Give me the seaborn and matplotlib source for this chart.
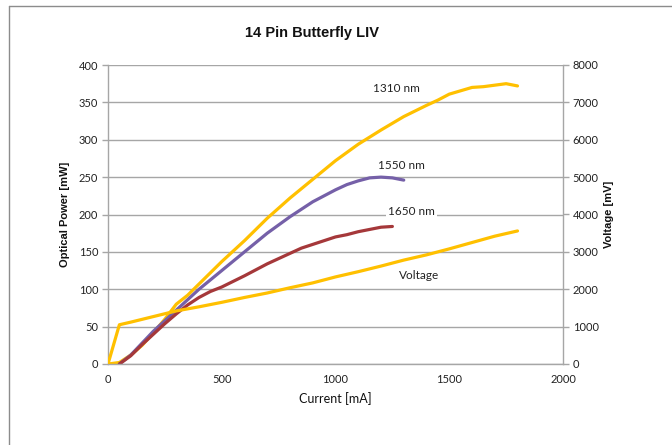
import matplotlib
matplotlib.use("Agg")
import matplotlib.pyplot as plt
import seaborn as sns
from matplotlib.lines import Line2D

# values
current_1310 = [0, 50, 100, 150, 200, 250, 300, 350, 400, 500, 600, 700, 800, 900, 1000, 1100, 1200, 1300, 1400, 1450, 1500, 1600, 1650, 1700, 1750, 1800]
power_1310 = [0, 2, 12, 25, 42, 60, 80, 92, 107, 137, 165, 195, 222, 247, 272, 294, 313, 331, 346, 353, 361, 370, 371, 373, 375, 372]

current_1550 = [50, 100, 150, 200, 250, 300, 400, 500, 600, 700, 800, 900, 1000, 1050, 1100, 1150, 1200, 1250, 1300]
power_1550 = [0, 12, 28, 44, 58, 72, 100, 125, 150, 175, 197, 217, 233, 240, 245, 249, 250, 249, 246]

current_1650 = [50, 100, 150, 200, 250, 300, 350, 400, 450, 500, 600, 700, 800, 850, 900, 1000, 1050, 1100, 1150, 1200, 1250]
power_1650 = [0, 11, 26, 40, 54, 67, 79, 89, 97, 103, 118, 134, 148, 155, 160, 170, 173, 177, 180, 183, 184]

current_v = [0, 50, 100, 200, 300, 400, 500, 600, 700, 800, 900, 1000, 1100, 1200, 1300, 1400, 1450, 1500, 1600, 1700, 1800]
voltage_mv = [0, 1050, 1120, 1270, 1420, 1530, 1650, 1780, 1900, 2040, 2170, 2330, 2470, 2620, 2780, 2920, 3000, 3080, 3250, 3420, 3560]

power_ticks = list(range(0, 401, 50))
voltage_ticks = list(range(0, 8001, 1000))
current_ticks = list(range(0, 2001, 500))

YELLOW = "#FFC000"
PURPLE = "#7560A8"
RED = "#A5383A"
GRID = "#A6A6A6"

sns.set_style("white")
plt.rcParams["font.family"] = ["Lato", "DejaVu Sans"]

fig = plt.figure(figsize=(6.72, 4.45), dpi=100)
ax = fig.add_axes([108 / 672, 1 - 364 / 445, 455 / 672, 299 / 445])
ax2 = ax.twinx()

sns.lineplot(x=current_1310, y=power_1310, ax=ax, color=YELLOW, linewidth=2.3)
sns.lineplot(x=current_1550, y=power_1550, ax=ax, color=PURPLE, linewidth=2.3)
sns.lineplot(x=current_1650, y=power_1650, ax=ax, color=RED, linewidth=2.3)
sns.lineplot(x=current_v, y=voltage_mv, ax=ax2, color=YELLOW, linewidth=2.3)

ax.set_xlim(0, 2000); ax.set_ylim(0, 400); ax2.set_ylim(0, 8000)
ax.set_xticks(current_ticks); ax.set_yticks(power_ticks); ax2.set_yticks(voltage_ticks)
ax.yaxis.grid(True, color=GRID, linewidth=1.0)
ax.set_axisbelow(True)

for a in (ax, ax2):
    a.spines["top"].set_visible(False)
    for side in ("left", "bottom", "right"):
        a.spines[side].set_color(GRID)
        a.spines[side].set_linewidth(1.0)
    a.tick_params(direction="out", length=4, width=1, color=GRID, labelsize=8, labelcolor="#222222", pad=3)
ax.spines["right"].set_visible(False)
ax2.spines["left"].set_visible(False); ax2.spines["bottom"].set_visible(False)

ax.set_xlabel("Current [mA]", fontsize=9, color="#111111", labelpad=5)
ax.set_ylabel("Optical Power [mW]", fontsize=8, fontweight="bold", family=["Liberation Sans", "DejaVu Sans"], color="#111111", labelpad=6)
ax2.set_ylabel("Voltage [mV]", fontsize=8, fontweight="bold", family=["Liberation Sans", "DejaVu Sans"], color="#111111", labelpad=4)

ax.text(1266, 369, "1310 nm", fontsize=8.5, ha="center", va="center", color="#222222")
ax.text(1290, 266, "1550 nm", fontsize=8.5, ha="center", va="center", color="#222222")
ax.text(1334, 204, "1650 nm", fontsize=8.5, ha="center", va="center", color="#222222",
        bbox=dict(facecolor="white", edgecolor="none", pad=1.5))
ax.text(1366, 118, "Voltage", fontsize=8.5, ha="center", va="center", color="#222222")

fig.text(312 / 672, 1 - 33 / 445, "14 Pin Butterfly LIV", fontsize=10.5, fontweight="bold",
         family=["Liberation Sans Narrow", "Liberation Sans", "DejaVu Sans"], ha="center", va="center", color="#111111")

# chart area frame
fig.add_artist(Line2D([9 / 672, 1.0], [1 - 6 / 445, 1 - 6 / 445], transform=fig.transFigure, color="#8C8C8C", linewidth=1))
fig.add_artist(Line2D([9 / 672, 9 / 672], [0.0, 1 - 6 / 445], transform=fig.transFigure, color="#8C8C8C", linewidth=1))

fig.savefig("out.png", dpi=100)
plt.close(fig)
